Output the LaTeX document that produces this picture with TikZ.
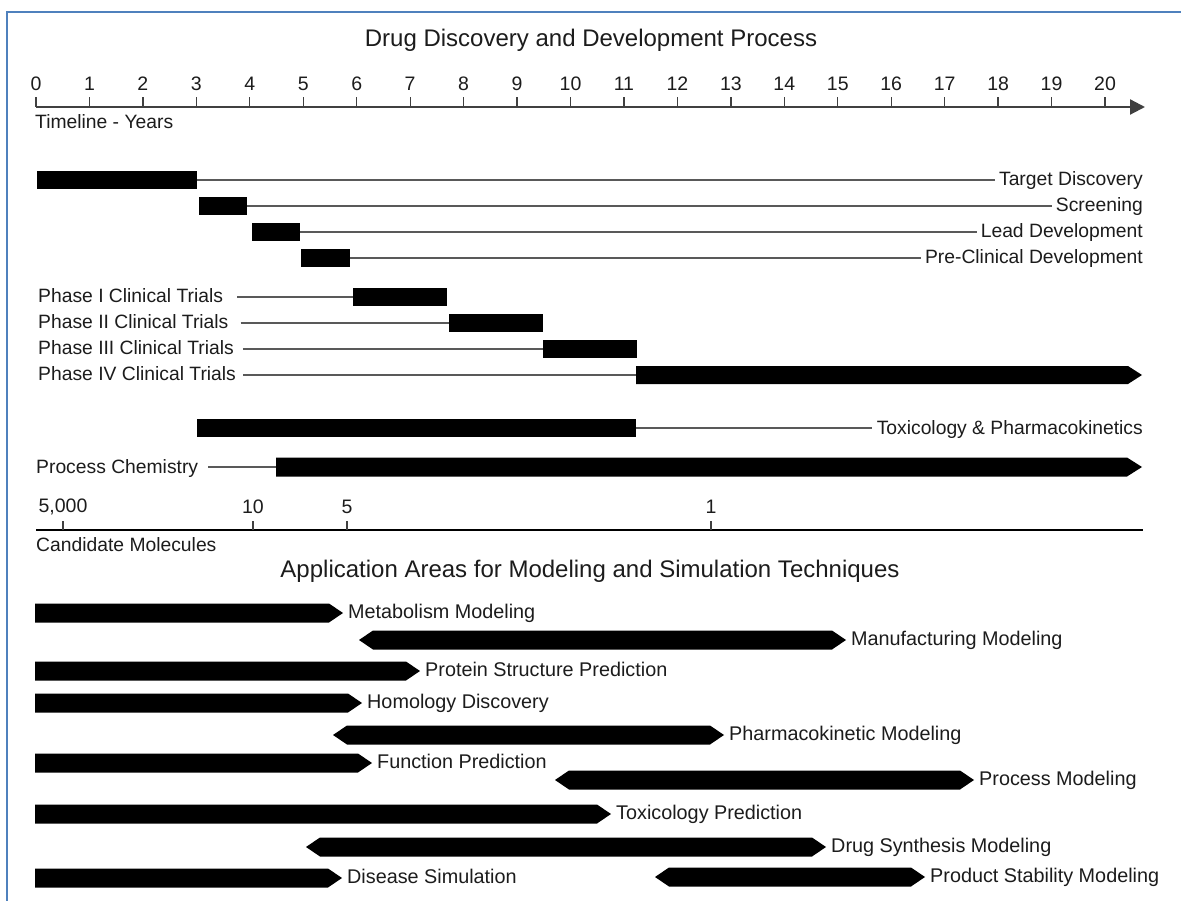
\documentclass[tikz,border=0pt]{standalone}
\usepackage{fontspec}
\setmainfont{Liberation Sans}
\usetikzlibrary{arrows.meta}
\definecolor{frameblue}{HTML}{4F81BD}
\definecolor{txt}{HTML}{1C1C1C}
\newcommand\myRbar[5]{%
  \fill[barfill] (#1,{#3-9.5}) -- ({#2-14},{#3-9.5}) -- (#2,#3) -- ({#2-14},{#3+9.5}) -- (#1,{#3+9.5}) -- cycle;
  \coordinate (#4) at (#2,#3);
  \node[blab, anchor=west] (#4-l) at ([xshift=5pt]#4) {#5};}
\newcommand\myDbar[5]{%
  \fill[barfill] (#1,#3) -- ({#1+14},{#3-9.5}) -- ({#2-14},{#3-9.5}) -- (#2,#3) -- ({#2-14},{#3+9.5}) -- ({#1+14},{#3+9.5}) -- cycle;
  \coordinate (#4) at (#2,#3);
  \node[blab, anchor=west] (#4-l) at ([xshift=5pt]#4) {#5};}
\begin{document}
\begin{tikzpicture}[x=1pt,y=-1pt,
  barfill/.style={fill=black},
  tbar/.style={fill=black, draw=none, inner sep=0pt, minimum height=18pt, anchor=west},
  lab/.style={inner sep=0pt, text=txt, font=\fontsize{19.3}{22}\selectfont, text height=14pt, text depth=4pt},
  blab/.style={lab, font=\fontsize{19.8}{22}\selectfont},
  ttl/.style={inner sep=0pt, text=txt, font=\fontsize{24}{28}\selectfont},
  ticklab/.style={inner sep=0pt, text=txt, font=\fontsize{19.5}{22}\selectfont},
  thinline/.style={draw=black!65, line width=1.5pt},
  axisline/.style={draw=black!75, line width=2.2pt},
  tickline/.style={draw=black!75, line width=1.3pt}]
\useasboundingbox (0,0) rectangle (1181,901);
\fill[white] (0,0) rectangle (1181,901);
\draw[frameblue, line width=2pt] (7,901) -- (7,12) -- (1181,12);

% ---------- top part ----------
\node[ttl] (title1) at (591,40) {Drug Discovery and Development Process};
\coordinate (ax0) at (36,107);
\coordinate (ax1) at (1145,107);
\draw[axisline, -{Triangle[length=15pt,width=15pt]}] (ax0) -- (ax1);
\foreach \i in {0,...,20}{
  \draw[tickline] ({36+53.45*\i},107) -- ({36+53.45*\i},97);
  \node[ticklab] (yr\i) at ({36+53.45*\i},84) {\i};
}
\node[lab, anchor=west] (tly) at (35,124) {Timeline - Years};

% phase bars with labels on the right
\node[tbar, minimum width=160pt] (tdb) at (37,180) {};
\node[lab, anchor=east] (tdl) at (1143,181) {Target Discovery};
\draw[thinline, shorten >=4pt] (tdb.east) -- (tdb.east -| tdl.west);

\node[tbar, minimum width=48pt] (scb) at (199,206) {};
\node[lab, anchor=east] (scl) at (1143,207) {Screening};
\draw[thinline, shorten >=4pt] (scb.east) -- (scb.east -| scl.west);

\node[tbar, minimum width=48pt] (ldb) at (252,232) {};
\node[lab, anchor=east] (ldl) at (1143,233) {Lead Development};
\draw[thinline, shorten >=4pt] (ldb.east) -- (ldb.east -| ldl.west);

\node[tbar, minimum width=49pt] (pcb) at (301,258) {};
\node[lab, anchor=east] (pcl) at (1143,259) {Pre-Clinical Development};
\draw[thinline, shorten >=4pt] (pcb.east) -- (pcb.east -| pcl.west);

% clinical trials
\node[lab, anchor=west] (p1l) at (38,298) {Phase I Clinical Trials};
\node[tbar, minimum width=94pt] (p1b) at (353,297) {};
\draw[thinline, shorten <=14pt] (p1b.west -| p1l.east) -- (p1b.west);

\node[lab, anchor=west] (p2l) at (38,324) {Phase II Clinical Trials};
\node[tbar, minimum width=94pt] (p2b) at (449,323) {};
\draw[thinline, shorten <=12pt] (p2b.west -| p2l.east) -- (p2b.west);

\node[lab, anchor=west] (p3l) at (38,350) {Phase III Clinical Trials};
\node[tbar, minimum width=94pt] (p3b) at (543,349) {};
\draw[thinline, shorten <=9pt] (p3b.west -| p3l.east) -- (p3b.west);

\node[lab, anchor=west] (p4l) at (38,376) {Phase IV Clinical Trials};
\coordinate (p4b) at (636,375);
\fill[barfill] (636,366) -- (1128,366) -- (1142,375) -- (1128,384) -- (636,384) -- cycle;
\draw[thinline, shorten <=7pt] (p4b -| p4l.east) -- (p4b);

% toxicology & process chemistry
\node[tbar, minimum width=439pt] (tpb) at (197,428) {};
\node[lab, anchor=east] (tpl) at (1143,429) {Toxicology \& Pharmacokinetics};
\draw[thinline, shorten >=5pt] (tpb.east) -- (tpb.east -| tpl.west);

\node[lab, anchor=west] (pchl) at (36,468) {Process Chemistry};
\coordinate (pchb) at (276,467);
\fill[barfill] (276,457.5) -- (1127,457.5) -- (1142,467) -- (1127,476.5) -- (276,476.5) -- cycle;
\draw[thinline, shorten <=10pt] (pchb -| pchl.east) -- (pchb);

% candidate molecules axis
\coordinate (cm0) at (36,530);
\coordinate (cm1) at (1143,530);
\draw[draw=black, line width=2.2pt] (cm0) -- (cm1);
\foreach \xx/\tt/\nm in {63/{5,000}/a,253/10/b,347/5/c,711/1/d}{
  \draw[tickline] (\xx,530) -- (\xx,521);
  \node[ticklab] (cm\nm) at (\xx,507) {\tt};
}
\node[lab, anchor=west] (cml) at (36,546) {Candidate Molecules};

% ---------- bottom part ----------
\node[ttl] (title2) at (590,571) {Application Areas for Modeling and Simulation Techniques};

\myRbar{35}{343}{613}{mm}{Metabolism Modeling}
\myDbar{359}{846}{640}{mf}{Manufacturing Modeling}
\myRbar{35}{420}{671}{ps}{Protein Structure Prediction}
\myRbar{35}{362}{703}{hd}{Homology Discovery}
\myDbar{333}{724}{735}{pk}{Pharmacokinetic Modeling}
\myRbar{35}{372}{763}{fp}{Function Prediction}
\myDbar{555}{974}{780}{pm}{Process Modeling}
\myRbar{35}{611}{814}{tx}{Toxicology Prediction}
\myDbar{306}{826}{847}{ds}{Drug Synthesis Modeling}
\myRbar{35}{342}{878}{di}{Disease Simulation}
\myDbar{655}{925}{877}{st}{Product Stability Modeling}
\end{tikzpicture}
\end{document}
